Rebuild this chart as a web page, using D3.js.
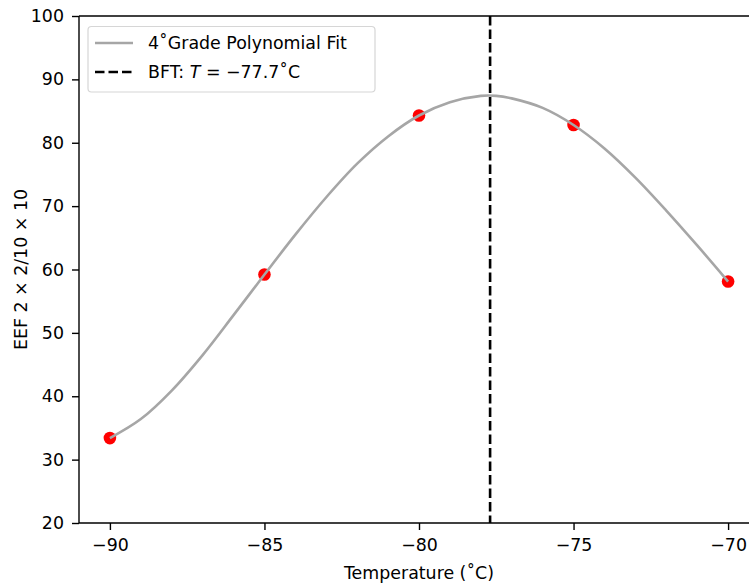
<!DOCTYPE html>
<html>
<head>
<meta charset="utf-8">
<script src="https://cdn.jsdelivr.net/npm/d3@7"></script>
<style>
  html, body { margin: 0; padding: 0; background: #fff; }
  svg { display: block; font-family: "DejaVu Sans", sans-serif; }
</style>
</head>
<body>
<svg id="chart" width="749" height="588"></svg>
<script>
// ── Data ─────────────────────────────────────────────────────────────────────
const tempC = [-90, -85, -80, -75, -70];
const eef   = [33.4, 59.2, 84.3, 82.8, 58.1];

// 4th-grade polynomial fit
const fitX = [-90, -89, -88, -87, -86, -85, -84, -83, -82, -81, -80, -79, -78, -77.5,
              -77, -76, -75, -74, -73, -72, -71, -70];
const fitY = [33.4, 36.4, 40.9, 46.5, 52.8, 59.2, 65.5, 71.4, 76.7, 81.0, 84.3, 86.4, 87.4, 87.4,
              87.0, 85.5, 82.8, 79.1, 74.5, 69.3, 63.8, 58.1];

const bft = -77.7;
const xTicks = [-90, -85, -80, -75, -70];
const yTicks = [20, 30, 40, 50, 60, 70, 80, 90, 100];

// ── Layout ───────────────────────────────────────────────────────────────────
const FS = 17.4;
const svg = d3.select("#chart");
const x = d3.scaleLinear().domain([-91, -69]).range([79, 759]);
const y = d3.scaleLinear().domain([20, 100]).range([523, 16]);
const fmt = d => (d < 0 ? "\u2212" + Math.abs(d) : d);

// Axes
const ax = svg.append("g").attr("transform", `translate(0,${y(20)})`)
  .call(d3.axisBottom(x).tickValues(xTicks).tickFormat(fmt).tickSize(7).tickPadding(8));
const ay = svg.append("g").attr("transform", `translate(${x(-91)},0)`)
  .call(d3.axisLeft(y).tickValues(yTicks).tickSize(7).tickPadding(8));

[ax, ay].forEach(a => {
  a.select(".domain").remove();
  a.selectAll(".tick line").attr("stroke", "#000").attr("stroke-width", 1.4);
  a.selectAll(".tick text").attr("fill", "#000").attr("font-size", FS)
    .attr("font-family", "DejaVu Sans");
});
ax.selectAll(".tick text").attr("dy", "0.77em");

// Spines (left, top, bottom)
const spine = (x1, y1, x2, y2) => svg.append("line")
  .attr("x1", x1).attr("y1", y1).attr("x2", x2).attr("y2", y2)
  .attr("stroke", "#000").attr("stroke-width", 1.4);
spine(x(-91), y(20), x(-69), y(20));
spine(x(-91), y(100), x(-69), y(100));
spine(x(-91), y(20), x(-91), y(100));

// Axis labels
svg.append("text").attr("x", x(-80)).attr("y", 579).attr("text-anchor", "middle")
  .attr("font-size", FS).text("Temperature (\u02DAC)");
svg.append("text").attr("transform", `translate(27,${(y(20) + y(100)) / 2}) rotate(-90)`)
  .attr("text-anchor", "middle").attr("font-size", FS)
  .text("EEF 2 \u00D7 2/10 \u00D7 10");

// ── Marks ────────────────────────────────────────────────────────────────────
svg.append("g").selectAll("circle")
  .data(tempC.map((t, i) => [t, eef[i]]))
  .join("circle")
  .attr("cx", d => x(d[0])).attr("cy", d => y(d[1])).attr("r", 6.3)
  .attr("fill", "#ff0000");

const line = d3.line().x(d => x(d[0])).y(d => y(d[1])).curve(d3.curveCatmullRom);
svg.append("path")
  .datum(fitX.map((t, i) => [t, fitY[i]]))
  .attr("d", line)
  .attr("fill", "none").attr("stroke", "#a6a6a6").attr("stroke-width", 2.6);

svg.append("line")
  .attr("x1", x(bft)).attr("x2", x(bft)).attr("y1", y(100)).attr("y2", y(20))
  .attr("stroke", "#000").attr("stroke-width", 2.6).attr("stroke-dasharray", "9.5,4");

// ── Legend ───────────────────────────────────────────────────────────────────
const lg = svg.append("g");
lg.append("rect").attr("x", 88).attr("y", 26.5).attr("width", 287).attr("height", 65.5)
  .attr("rx", 3.5).attr("fill", "#fff").attr("fill-opacity", 0.8)
  .attr("stroke", "#d6d6d6").attr("stroke-width", 1.2);

lg.append("line").attr("x1", 95).attr("x2", 133).attr("y1", 43).attr("y2", 43)
  .attr("stroke", "#a6a6a6").attr("stroke-width", 2.6);
lg.append("text").attr("x", 148).attr("y", 43).attr("dy", "0.36em").attr("font-size", FS)
  .text("4\u02DAGrade Polynomial Fit");

lg.append("line").attr("x1", 95).attr("x2", 133).attr("y1", 72).attr("y2", 72)
  .attr("stroke", "#000").attr("stroke-width", 2.6).attr("stroke-dasharray", "9.5,4");
const t2 = lg.append("text").attr("x", 148).attr("y", 72).attr("dy", "0.36em").attr("font-size", FS);
t2.append("tspan").text("BFT: ");
t2.append("tspan").attr("font-style", "italic").text("T");
t2.append("tspan").text(" = \u221277.7\u02DAC");
</script>
</body>
</html>
